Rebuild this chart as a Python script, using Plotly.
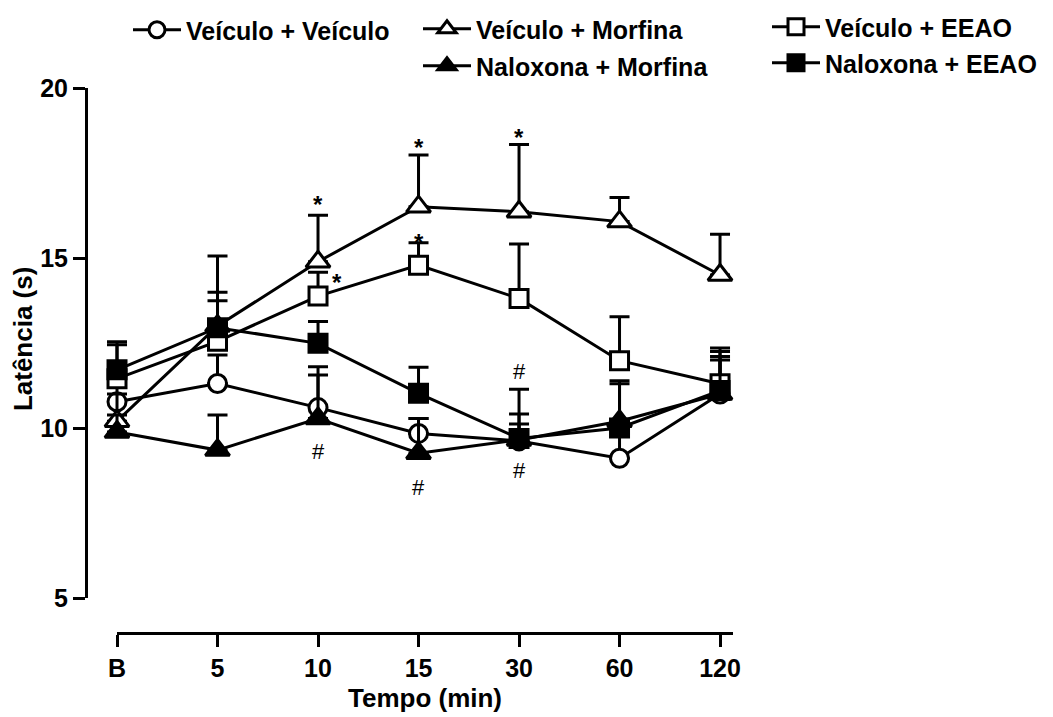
import plotly.graph_objects as go

times = ["B", "5", "10", "15", "30", "60", "120"]

veic_veic = [10.77, 11.31, 10.60, 9.84, 9.62, 9.11, 11.00]
veic_veic_err = [0.60, 0.84, 1.20, 0.44, 0.50, 0.90, 1.00]

veic_morf = [10.20, 13.00, 14.89, 16.51, 16.36, 16.07, 14.50]
veic_morf_err = [0.80, 2.06, 1.37, 1.52, 1.98, 0.71, 1.20]

nalox_morf = [9.88, 9.35, 10.28, 9.26, 9.65, 10.20, 11.00]
nalox_morf_err = [0.50, 1.03, 1.28, 1.02, 0.76, 1.10, 1.10]

veic_eeao = [11.45, 12.55, 13.88, 14.79, 13.81, 11.98, 11.30]
veic_eeao_err = [1.00, 1.19, 0.70, 0.66, 1.60, 1.29, 1.05]

nalox_eeao = [11.71, 12.95, 12.49, 11.02, 9.69, 10.00, 11.10]
nalox_eeao_err = [0.83, 1.04, 0.64, 0.77, 1.45, 1.39, 1.15]

# significance marks: (time index, y value)
star_x = [2, 2.19, 3, 3, 4]
star_y = [16.56, 14.29, 18.24, 15.47, 18.53]
hash_x = [2, 3, 4, 4]
hash_y = [9.32, 8.26, 11.65, 8.76]

FONT = "Liberation Sans, Arial, sans-serif"
xpos = list(range(len(times)))

series = [
    ("Veículo + Veículo", veic_veic, veic_veic_err, "circle", "white", "legend", 18),
    ("Veículo + Morfina", veic_morf, veic_morf_err, "triangle-up", "white", "legend2", 21),
    ("Naloxona + Morfina", nalox_morf, nalox_morf_err, "triangle-up", "black", "legend3", 21),
    ("Veículo + EEAO", veic_eeao, veic_eeao_err, "square", "white", "legend4", 18),
    ("Naloxona + EEAO", nalox_eeao, nalox_eeao_err, "square", "black", "legend5", 18),
]

fig = go.Figure()
# invisible helper trace so the offset x axis (x2/y2) is drawn (drawn first, underneath)
fig.add_trace(go.Scatter(x=[0, 6], y=[0, 1], xaxis="x2", yaxis="y2",
                         showlegend=False, hoverinfo="skip", mode="markers",
                         marker=dict(size=1, opacity=0)))
for name, vals, err, sym, fill, leg, size in series:
    fig.add_trace(go.Scatter(
        x=xpos, y=vals, name=name, mode="lines+markers",
        line=dict(color="black", width=3),
        marker=dict(symbol=sym, size=size, color=fill, line=dict(color="black", width=3)),
        error_y=dict(type="data", symmetric=False, array=err, arrayminus=[0] * len(err),
                     color="black", thickness=3, width=10),
        legend=leg, cliponaxis=False,
    ))

ann = []
for xv, yv in zip(star_x, star_y):
    ann.append(dict(x=xv, y=yv, xref="x", yref="y", text="*", showarrow=False,
                    font=dict(family=FONT, size=24, color="black", weight="bold")))
for xv, yv in zip(hash_x, hash_y):
    ann.append(dict(x=xv, y=yv, xref="x", yref="y", text="#", showarrow=False,
                    font=dict(family=FONT, size=22, color="black")))

title_font = dict(family=FONT, size=26, color="black", weight="bold")
ann.append(dict(x=-0.101, y=0.54, xref="paper", yref="paper", text="Latência (s)",
                textangle=-90, showarrow=False, xanchor="center", yanchor="middle",
                font=title_font))

W, H = 1053, 717
def leg(px, py):
    return dict(x=px / W, y=1 - py / H, xref="container", yref="container",
                xanchor="left", yanchor="middle", bgcolor="rgba(0,0,0,0)",
                borderwidth=0, itemwidth=48,
                font=dict(family=FONT, size=25, color="black", weight="bold"))

axis_font = dict(family=FONT, size=25, color="black", weight="bold")

fig.update_layout(
    width=W, height=H,
    margin=dict(l=88, r=320, t=88, b=85, autoexpand=False),
    paper_bgcolor="white", plot_bgcolor="rgba(0,0,0,0)",
    font=dict(family=FONT, color="black"),
    showlegend=True,
    legend=leg(128, 30),
    legend2=leg(418, 29),
    legend3=leg(418, 66),
    legend4=leg(767, 27),
    legend5=leg(767, 63),
    xaxis=dict(domain=[0, 1], range=[-0.2886, 6.129], anchor="y",
               showline=False, showticklabels=False, ticks="",
               showgrid=False, zeroline=False),
    yaxis=dict(domain=[0.0625, 1], range=[5, 20], anchor="x",
               showline=True, linewidth=3, linecolor="black", ticks="outside",
               ticklen=12, tickwidth=3, tickcolor="black",
               tickvals=[5, 10, 15, 20], tickfont=axis_font,
               showgrid=False, zeroline=False),
    xaxis2=dict(domain=[0.045, 1], range=[0, 6.129], anchor="y2",
                showline=True, linewidth=3, linecolor="black", ticks="outside",
                ticklen=12, tickwidth=3, tickcolor="black",
                tickvals=xpos, ticktext=times, tickfont=axis_font,
                showgrid=False, zeroline=False,
                title=dict(text="Tempo (min)", font=title_font, standoff=8)),
    yaxis2=dict(domain=[0, 1], range=[0, 1], anchor="x2", visible=False,
                showgrid=False, zeroline=False),
    annotations=ann,
)

fig.write_html("out.html")
